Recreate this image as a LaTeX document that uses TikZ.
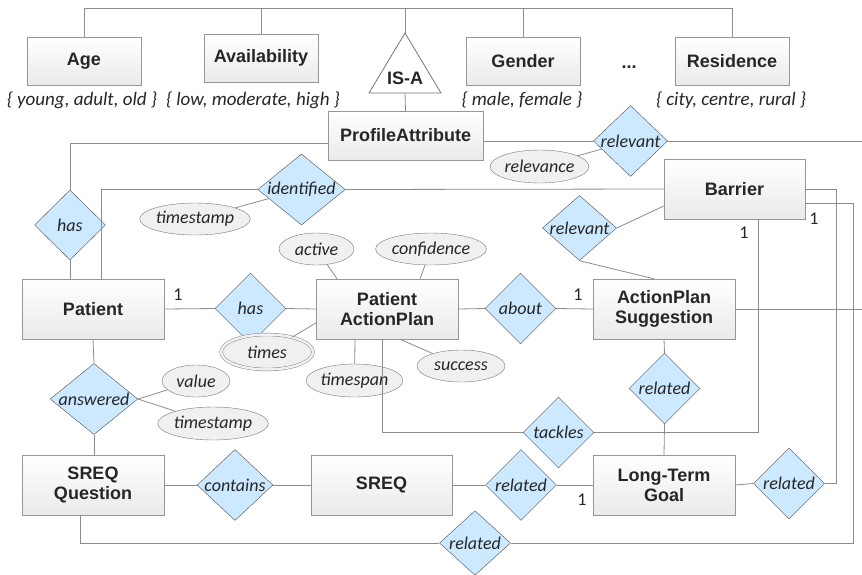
\documentclass[tikz,border=0pt]{standalone}
\usepackage{fontspec}
\setmainfont{Carlito}
\newfontfamily\boxfont{Liberation Sans}
\usepackage{tikz}
\usetikzlibrary{shapes.geometric, calc}
\definecolor{ink}{RGB}{38,38,38}
\definecolor{wiregray}{RGB}{140,140,140}
\definecolor{boxedge}{RGB}{150,150,150}
\definecolor{boxbottom}{RGB}{234,234,234}
\definecolor{relfill}{RGB}{204,233,255}
\definecolor{reledge}{RGB}{80,80,80}
\definecolor{attrfill}{RGB}{240,240,240}
\definecolor{attredge}{RGB}{120,120,120}

\tikzset{
  entity/.style={draw=boxedge, top color=white, bottom color=boxbottom, minimum width=142pt, minimum height=60pt,
    inner sep=2pt, align=center, text=ink, font=\boxfont\bfseries\fontsize{18}{20}\selectfont},
  small entity/.style={entity, minimum width=114pt, minimum height=48pt},
  rel/.style={diamond, draw=reledge, fill=relfill, minimum width=71pt, minimum height=71pt, inner sep=0pt,
    text=ink, font=\itshape\fontsize{18}{20}\selectfont},
  attr/.style={ellipse, draw=attredge, fill=attrfill, minimum height=32pt, inner sep=0pt,
    text=ink, font=\itshape\fontsize{18}{20}\selectfont},
  multiattr/.style={attr, double=attrfill, double distance=2.5pt},
  valueset/.style={text=ink, font=\itshape\fontsize{19}{21}\selectfont},
  card/.style={text=ink, font=\fontsize{18}{20}\selectfont},
  wire/.style={draw=wiregray, line width=0.8pt},
}

\begin{document}
\begin{tikzpicture}[x=1pt, y=-1pt]
  \useasboundingbox (0,0) rectangle (862,574);

  % profile attributes
  \node[small entity] (age) at (84,61) {Age};
  \node[small entity] (avail) at (261,58) {Availability};
  \node[small entity] (gender) at (523,61) {Gender};
  \node[small entity] (resid) at (732,61) {Residence};
  \node[text=ink, font=\boxfont\bfseries\fontsize{18}{20}\selectfont] (dots) at (629,67) {...};
  \node[valueset] (agedom) at (82,100) {\{ young, adult, old \}};
  \node[valueset] (availdom) at (253,100) {\{ low, moderate, high \}};
  \node[valueset] (genderdom) at (522,100) {\{ male, female \}};
  \node[valueset] (residdom) at (731,100) {\{ city, centre, rural \}};

  % IS-A triangle
  \coordinate (isatop) at (405,33);
  \coordinate (isabot) at (405,93);
  \draw[draw=attredge, fill=white, line width=0.8pt] (isatop) -- (441,93) -- (369,93) -- cycle;
  \node[text=ink, font=\boxfont\bfseries\fontsize{18}{20}\selectfont] (isa) at (405,78) {IS-A};
  \coordinate (topbar) at (0,8);

  % entities
  \node[entity, minimum width=155pt, minimum height=49pt] (pa) at (405.5,135.5) {ProfileAttribute};
  \node[entity] (patient) at (93,309) {Patient};
  \node[entity] (pap) at (387,309) {Patient\\ActionPlan};
  \node[entity] (aps) at (664,309) {ActionPlan\\Suggestion};
  \node[entity, minimum width=141pt] (barrier) at (734.5,189) {Barrier};
  \node[entity] (sq) at (93,485) {SREQ\\Question};
  \node[entity, minimum width=141pt] (sreq) at (381.5,485) {SREQ};
  \node[entity] (ltg) at (664,485) {Long-Term\\Goal};

  % relationships
  \node[rel, minimum height=70pt] (hasP) at (70,225) {has};
  \node[rel, aspect=1.3] (ident) at (301.5,189.5) {identified};
  \node[rel, aspect=1.14] (relP) at (630.5,141) {relevant};
  \node[rel, aspect=1.14, minimum height=64pt] (relM) at (579.5,228) {relevant};
  \node[rel] (hasM) at (250.5,308.5) {has};
  \node[rel] (about) at (520.5,308.5) {about};
  \node[rel, aspect=1.33] (answered) at (94,399) {answered};
  \node[rel, aspect=1.17] (contains) at (235,485) {contains};
  \node[rel] (relS) at (521,485) {related};
  \node[rel] (relA) at (664.5,388.5) {related};
  \node[rel] (relR) at (789,483.5) {related};
  \node[rel] (tackles) at (558.5,432.5) {tackles};
  \node[rel, minimum height=62pt] (relB) at (475,543) {related};

  % attributes
  \node[attr, minimum width=108pt] (ts1) at (195,219) {timestamp};
  \node[attr, minimum width=97pt, minimum height=33pt] (relev) at (539.5,166.5) {relevance};
  \node[attr, minimum width=75pt] (active) at (316.5,249) {active};
  \node[attr, minimum width=108pt] (conf) at (431,249) {confidence};
  \node[attr, minimum width=88pt] (success) at (461,366) {success};
  \node[attr, minimum width=97pt, minimum height=33pt] (tspan) at (354.5,380.5) {timespan};
  \node[multiattr, minimum width=92pt, minimum height=35pt] (times) at (267,352) {times};
  \node[attr, minimum width=68pt] (value) at (196,381) {value};
  \node[attr, minimum width=110pt, minimum height=33pt] (ts2) at (213,423.5) {timestamp};

  % cardinalities
  \node[card] (c1) at (178,295) {1};
  \node[card] (c2) at (578,295) {1};
  \node[card] (c3) at (814,219) {1};
  \node[card] (c4) at (744,233) {1};
  \node[card] (c5) at (582,500) {1};

  % IS-A hierarchy
  \draw[wire] (age.north) |- (resid.north |- topbar) -- (resid.north);
  \draw[wire] (avail.north) -- (avail.north |- topbar);
  \draw[wire] (gender.north) -- (gender.north |- topbar);
  \draw[wire] (isatop) -- (isatop |- topbar);
  \draw[wire] (isabot) -- (pa.north);

  % profile attribute links
  \draw[wire] ([yshift=-8pt]pa.west) -| (hasP.north);
  \draw[wire] (hasP.south) -- (hasP.south |- patient.north);
  \draw[wire] (relP.west -| pa.east) -- (relP.west);
  \draw[wire] (relP.east) -- (relP.east -| 862,0);
  \draw[wire] (relev) -- (relP);

  % barrier links
  \draw[wire] ([xshift=8pt]patient.north) |- (ident.west);
  \draw[wire] (ident.east) -- (barrier.west);
  \draw[wire] (ts1) -- (ident);
  \draw[wire] (relM.east) -- ([yshift=-17pt]barrier.west);
  \draw[wire] (relM.south) -- ([xshift=-10pt]aps.north);
  \draw[wire] ([xshift=23.5pt]barrier.south) |- (tackles.east);
  \draw[wire] (tackles.west) -| ([xshift=-5pt]pap.south);
  \draw[wire] (barrier.east) -| (836,0 |- relR.east) -- (relR.east);
  \draw[wire] ([yshift=-14pt]barrier.east) -| (853,0 |- relB.east) -- (relB.east);
  \draw[wire] (relB.west) -| ([xshift=-13pt]sq.south);

  % patient and action plans
  \draw[wire] (patient.east) -- (hasM.west);
  \draw[wire] (hasM.east) -- (pap.west);
  \draw[wire] (times) -- ([yshift=-14pt]pap.west);
  \draw[wire] (active) -- ([xshift=-50pt]pap.north);
  \draw[wire] (conf) -- ([xshift=33pt]pap.north);
  \draw[wire] (success) -- ([xshift=13pt]pap.south);
  \draw[wire] (tspan) -- ([xshift=-32pt]pap.south);
  \draw[wire] (pap.east) -- (about.west);
  \draw[wire] (about.east) -- (aps.west);
  \draw[wire] (aps.east) -- (aps.east -| 862,0);
  \draw[wire] (aps.south) -- (relA.north);
  \draw[wire] (relA.south) -- (ltg.north);

  % questionnaire
  \draw[wire] (patient.south) -- (answered.north);
  \draw[wire] (answered.south) -- (answered.south |- sq.north);
  \draw[wire] (answered.east) -- (value);
  \draw[wire] (answered.east) -- (ts2);
  \draw[wire] (sq.east) -- (contains.west);
  \draw[wire] (contains.east) -- (sreq.west);
  \draw[wire] (sreq.east) -- (relS.west);
  \draw[wire] (relS.east) -- (ltg.west);
  \draw[wire] (ltg.east) -- (relR.west);
\end{tikzpicture}
\end{document}
